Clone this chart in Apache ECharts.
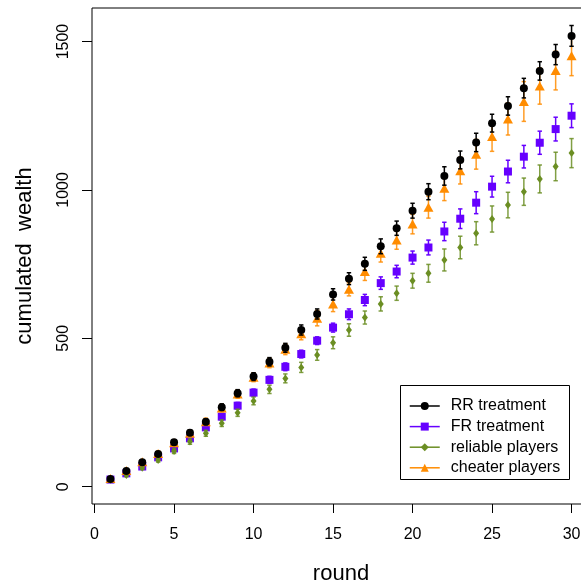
<!DOCTYPE html>
<html>
<head>
<meta charset="utf-8">
<script src="https://cdn.jsdelivr.net/npm/echarts@6/dist/echarts.min.js"></script>
<style>
html,body{margin:0;padding:0;background:#fff;}
#chart{width:581px;height:583px;}
</style>
</head>
<body>
<div id="chart"></div>
<script>
// ---- data ----
const rounds = [1,2,3,4,5,6,7,8,9,10,11,12,13,14,15,16,17,18,19,20,21,22,23,24,25,26,27,28,29,30];
const rrMean = [26,53,82,110,150,182,219,268,315,371,421,468,528,582,648,701,751,810,871,930,994,1047,1101,1160,1225,1283,1343,1401,1456,1519];
const rrErr  = [4,5,6,7,8,9,10,11,12,13,14,15,17,17,19,20,22,25,24,25,27,31,30,31,30,31,33,31,34,35];
const frMean = [24,45,68,99,129,163,200,236,273,317,360,404,447,492,536,581,629,686,725,772,806,860,903,957,1011,1062,1112,1159,1205,1250];
const frErr  = [4,5,6,7,8,9,10,10,11,12,12,13,13,13,15,18,19,21,21,22,25,31,33,37,35,38,38,39,40,40];
const relMean = [23,39,64,90,120,152,180,214,249,289,328,365,402,444,485,528,570,616,652,694,719,764,806,854,902,949,994,1037,1079,1124];
const relErr  = [4,5,6,7,8,9,10,11,12,13,14,15,17,18,20,21,22,24,24,25,30,37,38,39,44,43,46,47,48,49];
const chMean = [28,55,84,112,148,180,219,265,312,369,417,463,515,568,616,665,725,787,831,885,942,1006,1065,1120,1180,1239,1298,1350,1402,1452];
const chErr  = [5,6,7,8,9,10,12,13,14,15,16,18,20,26,26,22,30,30,31,33,37,42,45,50,50,54,67,61,65,67];
const seriesNames = ['RR treatment','FR treatment','reliable players','cheater players'];
const xTicks = [0,5,10,15,20,25,30];
const yTicks = [0,500,1000,1500];

const FONT = '"Liberation Sans", Arial, Helvetica, sans-serif';
const C_RR = '#000000', C_FR = '#6600FF', C_REL = '#6B8E23', C_CH = '#FF8C00';

function errSeries(name, vals, errs, color, z, opacity) {
  return {
    type: 'custom', name: name + ' err', z: z, silent: true, clip: false,
    encode: { x: 0, y: 1 },
    data: rounds.map((r, i) => [r, vals[i], errs[i]]),
    renderItem: function (params, api) {
      const x = api.value(0), y = api.value(1), e = api.value(2);
      const t = api.coord([x, y + e]), b = api.coord([x, y - e]);
      const cw = 2.2;
      const st = { stroke: color, lineWidth: 1.5, opacity: opacity };
      return { type: 'group', children: [
        { type: 'line', shape: { x1: t[0], y1: t[1], x2: b[0], y2: b[1] }, style: st },
        { type: 'line', shape: { x1: t[0]-cw, y1: t[1], x2: t[0]+cw, y2: t[1] }, style: st },
        { type: 'line', shape: { x1: b[0]-cw, y1: b[1], x2: b[0]+cw, y2: b[1] }, style: st }
      ]};
    }
  };
}
function ptSeries(name, vals, color, symbol, size, z) {
  return {
    type: 'line', name: name, z: z, symbol: symbol, symbolSize: size,
    showSymbol: true, showAllSymbol: true, silent: true,
    data: rounds.map((r, i) => [r, vals[i]]),
    lineStyle: { width: 0, color: color },
    itemStyle: { color: color, borderWidth: 0 },
    emphasis: { disabled: true }
  };
}

const chart = echarts.init(document.getElementById('chart'), null, { renderer: 'canvas' });
chart.setOption({
  animation: false,
  backgroundColor: '#ffffff',
  grid: { left: 92, top: 8, width: 498, height: 496, outerBoundsMode: 'none', containLabel: false,
          show: true, borderColor: '#000', borderWidth: 1, backgroundColor: 'transparent' },
  xAxis: {
    type: 'value', min: -0.16, max: 31.16,
    name: 'round', nameLocation: 'middle', nameGap: 59,
    nameTextStyle: { fontFamily: FONT, fontSize: 22, color: '#000' },
    axisLine: { show: false, onZero: false },
    axisTick: { show: true, length: 9, inside: false, customValues: xTicks, lineStyle: { color: '#000', width: 1 } },
    axisLabel: { customValues: xTicks, margin: 23, fontFamily: FONT, fontSize: 16, color: '#000',
                 formatter: v => String(v) },
    splitLine: { show: false }
  },
  yAxis: {
    type: 'value', min: -58.3, max: 1613,
    name: 'cumulated  wealth', nameLocation: 'middle', nameGap: 56,
    nameTextStyle: { fontFamily: FONT, fontSize: 22, color: '#000' },
    axisLine: { show: false, onZero: false },
    axisTick: { show: true, length: 10, customValues: yTicks, lineStyle: { color: '#000', width: 1 } },
    axisLabel: { customValues: yTicks, rotate: 90, margin: 20, fontFamily: FONT, fontSize: 16, color: '#000',
                 formatter: v => String(v) },
    splitLine: { show: false }
  },
  legend: {
    orient: 'vertical', left: 404, top: 393,
    itemWidth: 30, itemHeight: 10, itemGap: 4.6,
    data: seriesNames,
    selectedMode: false,
    lineStyle: { width: 1.5, opacity: 1 },
    textStyle: { fontFamily: FONT, fontSize: 16, color: '#000', lineHeight: 15, padding: [0, 0, 0, 6] },
    z: 20
  },
  graphic: [{
    type: 'rect', left: 400, top: 385, z: 10,
    shape: { width: 169, height: 94 },
    style: { fill: '#fff', stroke: '#000', lineWidth: 1 }
  }],
  series: [
    errSeries(seriesNames[1], frMean, frErr, C_FR, 2, 1),
    ptSeries(seriesNames[1], frMean, C_FR, 'rect', 8, 2),
    errSeries(seriesNames[2], relMean, relErr, C_REL, 3, 0.85),
    ptSeries(seriesNames[2], relMean, C_REL, 'diamond', [6, 8], 3),
    errSeries(seriesNames[3], chMean, chErr, C_CH, 4, 0.85),
    ptSeries(seriesNames[3], chMean, C_CH, 'triangle', [10, 9], 4),
    errSeries(seriesNames[0], rrMean, rrErr, C_RR, 5, 1),
    ptSeries(seriesNames[0], rrMean, C_RR, 'circle', 8, 5)
  ]
});
</script>
</body>
</html>
